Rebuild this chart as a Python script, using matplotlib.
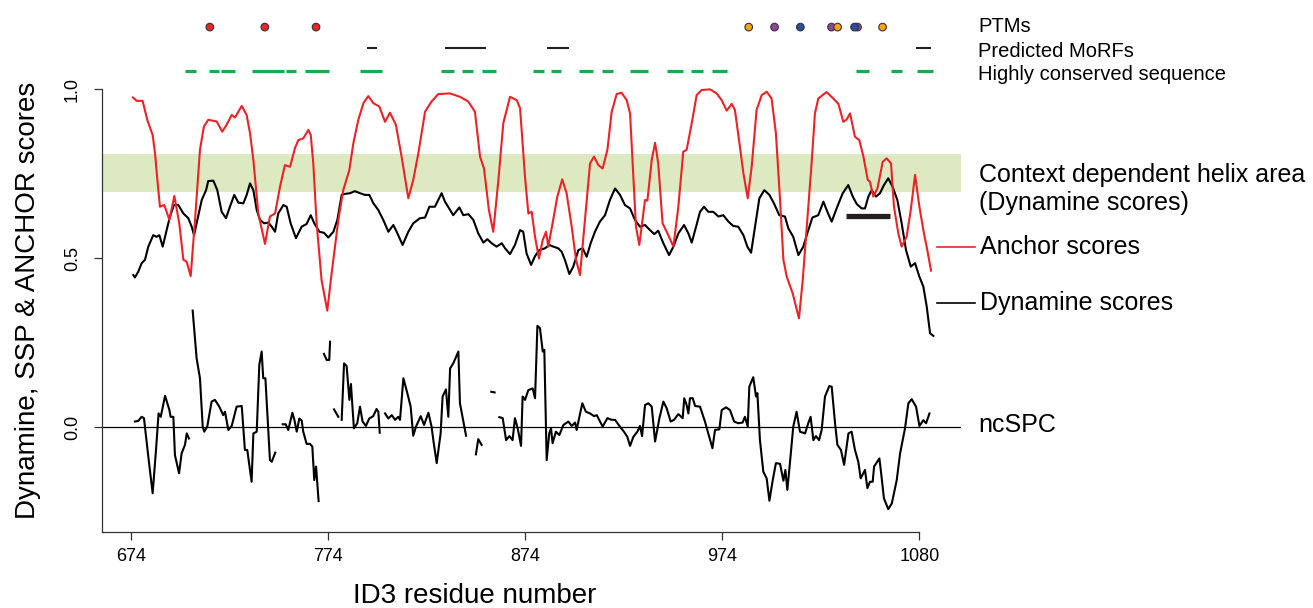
import numpy as np
import matplotlib
matplotlib.use("Agg")
import matplotlib.pyplot as plt
from matplotlib.lines import Line2D

plt.rcParams['font.family'] = ['Liberation Sans', 'DejaVu Sans']

# ---------------- data ----------------
anchor_res = [675.0, 676.9, 679.9, 682.3, 685.0, 686.2, 687.4, 688.7, 690.9, 693.5, 696.0, 698.5,
              700.6, 702.2, 704.3, 706.5, 709.0, 711.0, 713.2, 717.5, 720.3, 722.5, 725.1, 726.8,
              730.2, 732.7, 734.4, 736.1, 738.6, 742.0, 744.5, 747.1, 749.6, 752.1, 754.7, 757.2,
              758.9, 761.4, 764.0, 765.2, 766.5, 768.2, 770.7, 773.6, 775.8, 779.2, 781.7, 784.8,
              786.8, 789.3, 791.9, 794.4, 797.0, 800.0, 802.9, 805.4, 808.4, 811.3, 814.7, 817.2,
              819.8, 823.2, 826.5, 829.9, 835.8, 840.9, 845.1, 848.5, 851.1, 853.1, 855.6, 857.8,
              860.4, 862.9, 866.3, 869.7, 871.4, 873.9, 875.6, 877.3, 879.0, 881.0, 882.9, 884.6,
              885.7, 887.9, 890.3, 892.8, 895.0, 897.6, 899.8, 901.8, 904.3, 906.9, 908.9, 911.1,
              913.3, 915.7, 917.9, 920.4, 922.9, 925.5, 927.2, 928.9, 930.2, 931.9, 934.8, 936.0,
              938.2, 939.9, 941.5, 943.7, 946.6, 949.2, 951.7, 954.2, 955.9, 958.5, 961.0, 963.5,
              967.8, 971.1, 973.7, 976.2, 978.8, 980.4, 982.6, 984.7, 986.9, 988.9, 991.4, 994.0,
              996.5, 999.0, 1001.2, 1003.3, 1005.0, 1006.7, 1009.7, 1011.4, 1012.9, 1014.8, 1017.1,
              1019.3, 1021.0, 1022.7, 1026.9, 1030.3, 1032.9, 1035.4, 1037.1, 1038.8, 1041.3, 1043.5,
              1045.6, 1047.8, 1048.9, 1050.6, 1052.7, 1055.4, 1057.4, 1059.6, 1061.1, 1063.3, 1065.0,
              1067.5, 1069.6, 1071.8, 1074.0, 1076.0, 1078.0, 1079.9]
anchor_val = [0.975, 0.965, 0.965, 0.908, 0.864, 0.810, 0.731, 0.652, 0.657, 0.613, 0.684, 0.603,
              0.495, 0.490, 0.447, 0.613, 0.820, 0.889, 0.909, 0.904, 0.874, 0.894, 0.923, 0.916,
              0.950, 0.923, 0.869, 0.790, 0.632, 0.542, 0.623, 0.632, 0.711, 0.775, 0.770, 0.825,
              0.849, 0.854, 0.879, 0.864, 0.780, 0.603, 0.435, 0.345, 0.455, 0.613, 0.701, 0.761,
              0.839, 0.908, 0.958, 0.979, 0.958, 0.948, 0.903, 0.930, 0.894, 0.800, 0.677, 0.731,
              0.810, 0.933, 0.963, 0.985, 0.987, 0.977, 0.963, 0.933, 0.800, 0.765, 0.642, 0.578,
              0.731, 0.899, 0.977, 0.967, 0.943, 0.741, 0.632, 0.637, 0.563, 0.499, 0.554, 0.578,
              0.534, 0.603, 0.682, 0.733, 0.692, 0.593, 0.495, 0.450, 0.613, 0.780, 0.800, 0.775,
              0.765, 0.820, 0.933, 0.985, 0.989, 0.967, 0.928, 0.741, 0.593, 0.539, 0.672, 0.670,
              0.790, 0.841, 0.780, 0.603, 0.568, 0.534, 0.652, 0.815, 0.820, 0.899, 0.982, 0.997,
              0.999, 0.987, 0.967, 0.936, 0.956, 0.938, 0.844, 0.751, 0.677, 0.770, 0.938, 0.982,
              0.992, 0.972, 0.869, 0.672, 0.495, 0.445, 0.396, 0.357, 0.322, 0.435, 0.613,
              0.780, 0.928, 0.972, 0.991, 0.972, 0.956, 0.903, 0.910, 0.928, 0.859, 0.849,
              0.800, 0.731, 0.726, 0.682, 0.706, 0.785, 0.795, 0.780, 0.652, 0.573, 0.534,
              0.563, 0.642, 0.746, 0.652, 0.583, 0.524, 0.463]

dynamine_res = [675.2, 676.0, 677.7, 679.4, 681.1, 682.8, 685.3, 687.0, 688.4, 690.1, 692.1, 693.8,
                695.8, 698.0, 700.6, 703.1, 704.8, 706.0, 707.7, 709.9, 712.1, 713.2, 715.8, 717.8,
                720.0, 722.2, 724.2, 726.4, 728.5, 731.0, 732.7, 734.4, 736.1, 737.8, 739.5, 741.5,
                743.7, 745.4, 747.1, 748.7, 751.3, 753.0, 755.0, 757.7, 760.6, 763.1, 765.2, 767.0,
                769.6, 771.9, 774.1, 776.7, 778.7, 780.9, 782.6, 785.1, 787.6, 790.2, 792.7, 794.9,
                797.0, 799.5, 802.0, 804.6, 807.1, 808.8, 811.8, 814.7, 817.2, 820.6, 823.2, 825.4,
                828.2, 829.9, 831.6, 833.3, 837.5, 840.6, 842.6, 845.2, 847.7, 850.2, 852.8, 854.8,
                857.0, 859.5, 862.1, 863.8, 866.3, 868.8, 871.4, 873.0, 874.7, 877.0, 879.0, 881.2,
                884.0, 886.2, 888.3, 890.8, 892.5, 894.2, 896.4, 898.4, 901.0, 903.2, 905.2, 907.2,
                909.4, 911.9, 914.5, 917.0, 919.6, 922.1, 924.6, 927.2, 929.7, 932.2, 934.8, 937.3,
                939.5, 941.5, 944.1, 947.0, 949.2, 951.7, 954.6, 956.8, 958.5, 960.7, 962.7, 964.7,
                966.9, 969.4, 972.0, 974.5, 977.1, 979.6, 982.1, 984.7, 986.7, 988.6, 990.6, 992.8,
                995.3, 997.9, 1000.2, 1002.9, 1005.8, 1007.5, 1010.0, 1012.6, 1015.1, 1017.1, 1019.7,
                1022.7, 1025.3, 1027.3, 1029.5, 1032.0, 1035.1, 1037.9, 1040.2, 1042.2, 1044.7,
                1046.4, 1048.1, 1049.8, 1052.0, 1054.0, 1056.0, 1058.2, 1060.4, 1062.8, 1065.0,
                1067.2, 1069.6, 1071.8, 1074.0, 1076.0, 1077.7, 1079.4, 1081.1]
dynamine_val = [0.450, 0.443, 0.460, 0.485, 0.495, 0.534, 0.568, 0.563, 0.568, 0.534, 0.583, 0.623,
                0.657, 0.657, 0.632, 0.618, 0.593, 0.568, 0.613, 0.672, 0.701, 0.728, 0.729, 0.701,
                0.637, 0.618, 0.652, 0.687, 0.664, 0.662, 0.687, 0.721, 0.701, 0.642, 0.613, 0.603,
                0.605, 0.593, 0.578, 0.632, 0.657, 0.652, 0.603, 0.559, 0.593, 0.601, 0.627, 0.603,
                0.578, 0.575, 0.561, 0.578, 0.613, 0.687, 0.690, 0.692, 0.698, 0.692, 0.687, 0.687,
                0.662, 0.642, 0.613, 0.578, 0.598, 0.578, 0.539, 0.578, 0.603, 0.618, 0.620, 0.652,
                0.652, 0.672, 0.692, 0.667, 0.627, 0.650, 0.627, 0.630, 0.613, 0.573, 0.546, 0.556,
                0.544, 0.534, 0.544, 0.529, 0.512, 0.539, 0.583, 0.578, 0.514, 0.480, 0.506, 0.524,
                0.529, 0.539, 0.534, 0.529, 0.519, 0.494, 0.453, 0.475, 0.524, 0.529, 0.504, 0.544,
                0.578, 0.608, 0.627, 0.672, 0.706, 0.687, 0.657, 0.647, 0.613, 0.593, 0.598, 0.583,
                0.571, 0.581, 0.544, 0.509, 0.534, 0.573, 0.598, 0.573, 0.546, 0.593, 0.637, 0.652,
                0.637, 0.637, 0.623, 0.627, 0.608, 0.595, 0.593, 0.568, 0.534, 0.516, 0.593, 0.677,
                0.701, 0.687, 0.662, 0.627, 0.623, 0.588, 0.563, 0.509, 0.534, 0.573, 0.620,
                0.627, 0.667, 0.637, 0.608, 0.647, 0.692, 0.716, 0.682, 0.660, 0.647,
                0.647, 0.682, 0.701, 0.682, 0.692, 0.716, 0.736, 0.711, 0.672, 0.603,
                0.524, 0.475, 0.485, 0.445, 0.416, 0.357, 0.278, 0.270]

nan = np.nan
ncspc_res = [676.0, 677.7, 679.4, 680.6, 682.8, 685.0, 686.7, 688.0, 689.1, 691.3, 693.5, 694.1,
             695.5, 696.3, 698.4, 699.7, 701.4, 702.3, 703.4, nan,
             705.3, 707.3, 709.0, 710.4, 711.2, 712.7, 714.9, 716.6, 718.8, 720.8, 721.7, 723.4,
             725.1, 727.6, 730.2, 731.8, 733.0, 735.2, 736.1, 737.8, 739.1, 740.3, 741.1, 742.2,
             744.5, 745.4, 747.2, nan,
             751.0, 752.5, 753.8, 755.9, 756.9, 758.1, 759.4, 760.6, 761.4, 763.1, 764.8, 766.0,
             767.0, 767.9, 769.2, nan,
             771.9, 773.3, 774.6, 775.0, nan,
             777.0, 779.2, nan,
             780.9, 782.1, 783.4, 784.8, 785.6, 787.1, 788.8, 790.2, 791.5, 793.2, 794.9, 796.9,
             798.6, 799.5, 800.2, nan,
             802.9, 804.6, 806.3, 808.0, 809.6, 810.5, 812.2, 814.2, 815.9, 817.2, 818.6, 821.0,
             822.7, 824.9, 826.5, 827.4, 829.1, 831.1, 832.1, 833.8, 835.0, 835.9, 837.5, 840.1,
             840.9, 844.0, nan,
             849.0, 850.2, 851.9, nan,
             856.8, 858.5, nan,
             860.9, 862.6, 864.3, 866.0, 867.6, 868.8, 870.2, 871.9, 872.7, 873.9, 875.6, 877.8,
             879.0, 880.2, 881.5, 882.9, 883.7, 884.9, 886.2, 887.1, 887.9, 889.6, 891.3, 893.4,
             895.9, 897.6, 899.3, 900.1, 901.5, 903.0, 904.8, 906.9, 908.9, 910.3, 913.3, 915.7,
             917.9, 919.6, 921.8, 924.1, 925.8, 927.2, 928.9, 930.9, 932.2, 933.3, 934.8, 936.5,
             938.2, 939.9, 942.1, 944.1, 945.8, 947.8, 949.5, 951.7, 953.9, 954.7, 955.9, 956.8,
             957.6, 959.0, 960.2, 962.7, 965.2, 966.9, 969.0, 970.3, 972.5, 973.7, 975.9, 977.9,
             980.0, 982.1, 984.3, 985.5, 986.9, 987.7, 989.7, 991.1, 991.8, 993.1, 994.8, 996.5,
             997.9, 999.6, 1001.2, 1003.3, 1005.0, 1006.0, 1007.0, 1008.3, 1010.0, 1011.7, 1013.4,
             1016.0, 1017.6, 1018.8, 1020.2, 1021.5, 1023.1, 1024.4, 1026.1, 1028.3, 1029.5,
             1031.2, 1032.4, 1034.2, 1035.8, 1038.0, 1039.6, 1041.3, 1043.0, 1044.2, 1046.4,
             1047.6, 1048.9, 1050.3, 1051.0, 1053.7, 1054.5, 1056.0, 1058.2, 1060.0, 1062.5,
             1064.2, 1066.7, 1068.4, 1070.1, 1072.3, 1074.0, 1076.0, 1077.4, 1079.1]
ncspc_val = [0.017, 0.019, 0.031, 0.027, -0.087, -0.195, -0.067, 0.041, 0.031, 0.093, 0.051, 0.031,
             0.031, -0.082, -0.136, -0.077, -0.052, -0.018, -0.033, nan,
             0.345, 0.204, 0.145, 0.002, -0.013, 0.002, 0.076, 0.081, 0.061, 0.036, 0.046, -0.008,
             0.004, 0.061, 0.063, -0.067, -0.067, -0.161, -0.018, -0.013, 0.184, 0.224, 0.145, 0.145,
             -0.097, -0.102, -0.075, nan,
             0.009, 0.009, -0.008, 0.043, 0.022, -0.013, 0.026, 0.020, -0.013, -0.049, -0.049, -0.057,
             -0.156, -0.116, -0.218, nan,
             0.217, 0.199, 0.199, 0.253, nan,
             0.053, 0.031, nan,
             0.022, 0.189, 0.181, 0.081, 0.128, -0.003, 0.012, 0.061, 0.017, 0.004, 0.026, 0.033,
             0.054, 0.046, -0.016, nan,
             0.041, 0.026, 0.036, 0.022, 0.031, 0.022, 0.145, 0.101, 0.061, -0.025, 0.002, 0.033,
             0.007, 0.043, 0.002, -0.038, -0.106, -0.018, 0.091, 0.112, 0.031, 0.174, 0.189, 0.224,
             0.071, -0.025, nan,
             -0.080, -0.035, -0.052, nan,
             0.105, 0.103, nan,
             0.030, 0.027, -0.038, -0.026, -0.038, 0.027, -0.003, -0.055, 0.091, 0.081, 0.110, 0.115,
             0.086, 0.300, 0.293, 0.224, 0.229, -0.097, -0.018, -0.003, -0.047, -0.013, -0.023, 0.007,
             0.017, 0.004, 0.014, -0.008, 0.031, 0.071, 0.046, 0.041, 0.033, 0.036, 0.002, 0.027,
             0.022, 0.022, 0.004, -0.013, -0.028, -0.055, -0.028, -0.013, 0.004, -0.026, 0.066, 0.071,
             0.061, -0.042, 0.027, 0.076, 0.056, 0.017, 0.022, 0.039, 0.027, 0.086, 0.066, 0.041,
             0.086, 0.086, 0.063, 0.061, 0.017, -0.018, -0.062, -0.008, -0.006, 0.051, 0.059, 0.051,
             0.017, 0.012, 0.014, 0.031, 0.002, 0.120, 0.148, 0.091, 0.101, -0.038, -0.131, -0.151,
             -0.217, -0.156, -0.106, -0.108, -0.158, -0.126, -0.185, -0.106, 0.002, 0.046, -0.013,
             -0.018, 0.012, 0.031, -0.038, -0.026, -0.038, -0.008, 0.091, 0.122, 0.120,
             0.012, -0.052, -0.067, -0.111, -0.018, -0.013, -0.067, -0.102, -0.151, -0.126,
             -0.180, -0.161, -0.161, -0.116, -0.092, -0.131, -0.210, -0.242, -0.225, -0.156,
             -0.077, -0.003, 0.071, 0.083, 0.061, 0.004, 0.021, 0.012, 0.041]

# top annotation tracks
ptm_res = [714.0, 741.9, 767.9, 987.4, 1000.5, 1013.6, 1029.4, 1032.5, 1042.6, 1041.1, 1055.3]
ptm_colors = ['#E8262A', '#E8262A', '#E8262A', '#F7A21B', '#8E479C', '#2C4CA0',
              '#8E479C', '#F7A21B', '#8E479C', '#2C4CA0', '#F7A21B']
morf_start = [793.5, 833.5, 885.2, 1072.2]
morf_end = [798.6, 854.3, 896.1, 1079.8]
cons_start = [701.4, 713.4, 719.5, 735.3, 752.4, 762.3, 790.2, 831.3, 842.1, 852.0, 877.9,
              886.9, 901.1, 913.0, 927.1, 946.0, 957.9, 968.9, 1041.8, 1059.8, 1072.7]
cons_end = [707.0, 718.8, 726.7, 751.5, 757.6, 774.5, 801.6, 837.7, 847.7, 859.3, 883.5,
            892.4, 908.3, 918.4, 936.4, 954.3, 964.4, 976.2, 1048.2, 1065.3, 1081.1]

helix_bar_res = [1036.8, 1059.1]
helix_bar_val = 0.625
helix_band = (0.695, 0.808)

xtick_pos = [674, 774, 874, 974, 1074]
xtick_labels = ['674', '774', '874', '974', '1080']
ytick_pos = [0.0, 0.5, 1.0]
ytick_labels = ['0.0', '0.5', '1.0']

# ---------------- figure ----------------
W, H = 1313, 608
fig = plt.figure(figsize=(W / 100, H / 100), dpi=100)

def fx(px):
    return px / W

def fy(py):
    return 1 - py / H

ax_left, ax_right, ax_bottom_px = 101.7, 961.0, 532.3
ax = fig.add_axes([fx(ax_left), fy(ax_bottom_px), fx(ax_right - ax_left), 1 - fy(ax_bottom_px)])
ax.set_xlim(659.15, 1095.1)
ax.set_ylim(-0.3104, 1.2631)

ax.axhspan(helix_band[0], helix_band[1], color='#DDE9C1', zorder=0, lw=0)
ax.axhline(0, color='black', lw=0.9, zorder=1)

ax.plot(dynamine_res, dynamine_val, color='black', lw=1.5, zorder=3)
ax.plot(anchor_res, anchor_val, color='#EC2227', lw=1.5, zorder=4)
ax.plot(ncspc_res, ncspc_val, color='black', lw=1.5, zorder=3)
ax.plot(helix_bar_res, [helix_bar_val, helix_bar_val], color='#231F20', lw=3.8,
        solid_capstyle='butt', zorder=5)

# annotation tracks
y_ptm, y_morf, y_cons = 1.183, 1.121, 1.054
for s, e in zip(cons_start, cons_end):
    ax.plot([s, e], [y_cons, y_cons], color='#13AD4F', lw=2.3, solid_capstyle='butt',
            clip_on=False)
for s, e in zip(morf_start, morf_end):
    ax.plot([s, e], [y_morf, y_morf], color='#231F20', lw=1.5, solid_capstyle='butt',
            clip_on=False)
ax.scatter(ptm_res, [y_ptm] * len(ptm_res), s=30, c=ptm_colors, edgecolors='#333333',
           linewidths=0.8, zorder=6, clip_on=False)

# axes styling
for sp in ['top', 'right']:
    ax.spines[sp].set_visible(False)
ax.spines['left'].set_bounds(-0.3104, 1.0)
ax.spines['bottom'].set_bounds(659.15, 1074)
ax.spines['left'].set_linewidth(0.9)
ax.spines['bottom'].set_linewidth(0.9)
ax.spines['left'].set_color('#333333')
ax.spines['bottom'].set_color('#333333')

ax.set_xticks(xtick_pos)
ax.set_xticklabels(xtick_labels, fontsize=13)
ax.set_yticks(ytick_pos)
ax.set_yticklabels(ytick_labels, fontsize=13, rotation=90, va='center')
ax.tick_params(axis='x', direction='out', length=5.5, width=0.9, pad=6, colors='#333333',
               labelcolor='black')
ax.tick_params(axis='y', direction='out', length=6, width=0.9, pad=9, colors='#333333',
               labelcolor='black')

# axis labels
fig.text(fx(28), fy(300), 'Dynamine, SSP & ANCHOR scores', rotation=90, fontsize=20,
         ha='center', va='center')
fig.text(fx(475), fy(596), 'ID3 residue number', fontsize=20, ha='center', va='center')

# right-hand labels
fig.text(fx(978), fy(26.7), 'PTMs', fontsize=14.5, ha='left', va='center')
fig.text(fx(978), fy(51.7), 'Predicted MoRFs', fontsize=14.5, ha='left', va='center')
fig.text(fx(978), fy(75), 'Highly conserved sequence', fontsize=14.5, ha='left', va='center')
fig.text(fx(979), fy(175), 'Context dependent helix area', fontsize=18, ha='left', va='center')
fig.text(fx(979), fy(203), '(Dynamine scores)', fontsize=18, ha='left', va='center')
fig.text(fx(980), fy(247), 'Anchor scores', fontsize=18, ha='left', va='center')
fig.text(fx(980), fy(302.7), 'Dynamine scores', fontsize=18, ha='left', va='center')
fig.text(fx(978), fy(425), 'ncSPC', fontsize=18, ha='left', va='center')
fig.add_artist(Line2D([fx(937), fx(975)], [fy(247), fy(247)], color='#EC2227', lw=1.2,
                      transform=fig.transFigure))
fig.add_artist(Line2D([fx(937), fx(975)], [fy(302.7), fy(302.7)], color='black', lw=1.2,
                      transform=fig.transFigure))

fig.savefig('out.png', dpi=100)
